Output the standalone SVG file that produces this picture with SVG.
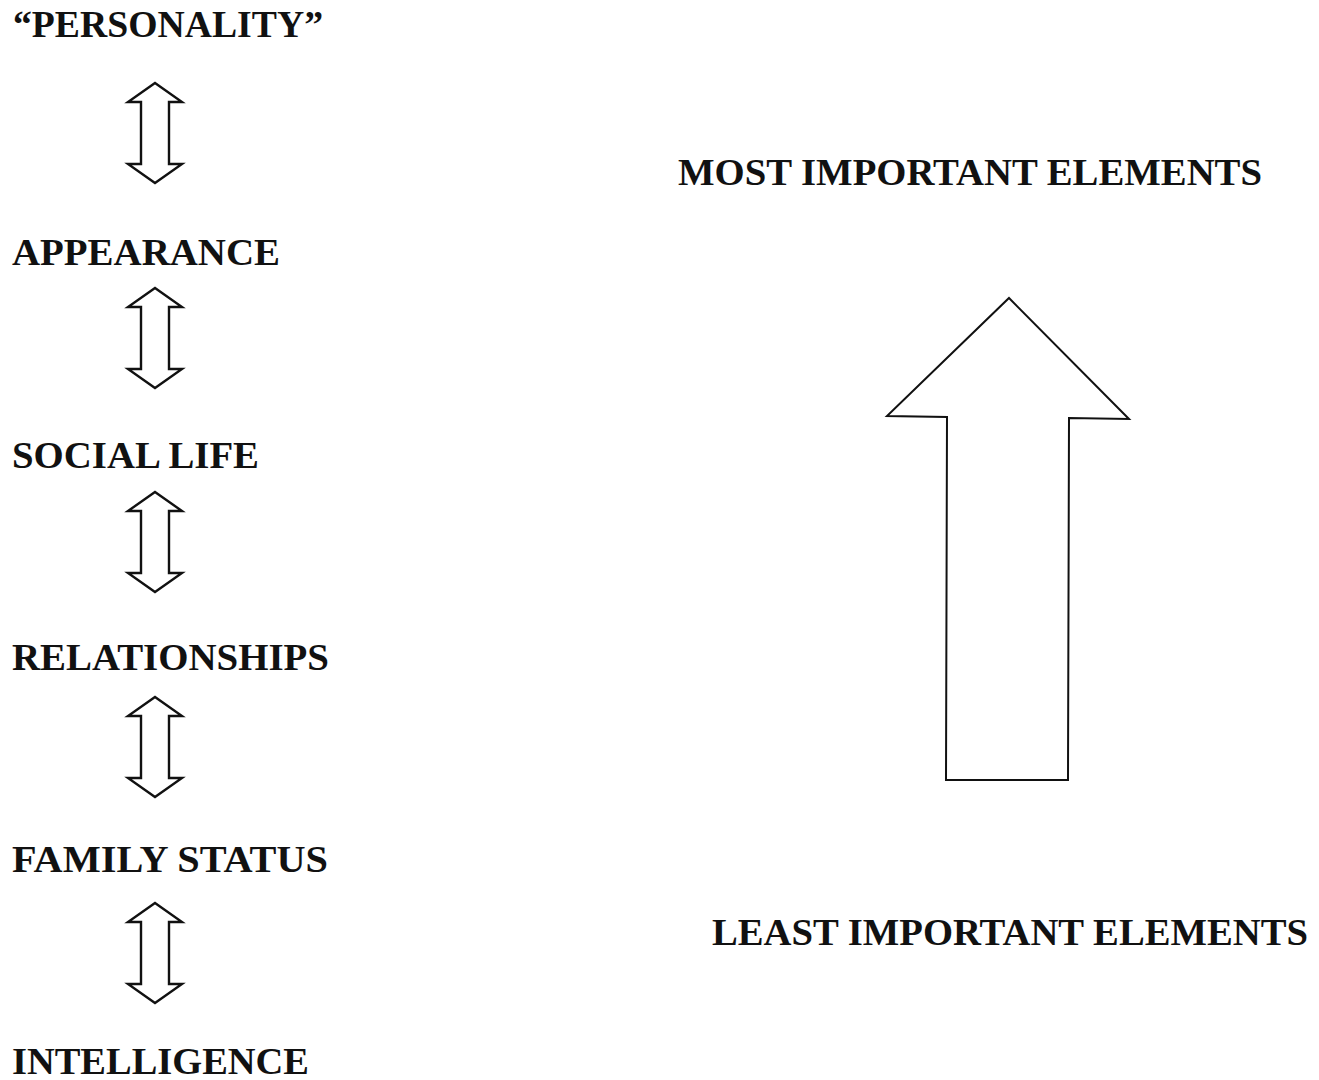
<svg xmlns="http://www.w3.org/2000/svg" width="1319" height="1080" viewBox="0 0 1319 1080">
  <style>
    .label { font-family: "Liberation Serif", "Times New Roman", serif; font-weight: bold; font-size: 37px; fill: #111; }
    .dbl { fill: #fff; stroke: #111; stroke-width: 2.4; stroke-linejoin: miter; }
    .big { fill: #fff; stroke: #111; stroke-width: 2; stroke-linejoin: miter; }
  </style>
  <defs>
    <!-- two-headed hollow arrow, origin at the upper tip -->
    <path id="dblArrow" class="dbl" d="M0,0 L27,19 L14,19 L14,81 L27,81 L0,100 L-27,81 L-14,81 L-14,19 L-27,19 Z"/>
  </defs>
  <rect width="1319" height="1080" fill="#fff"/>

  <!-- ranked list of elements -->
  <g id="personality"><text class="label" x="13" y="37" textLength="310" lengthAdjust="spacingAndGlyphs">“PERSONALITY”</text></g>
  <g id="appearance"><text class="label" x="12" y="265" textLength="268" lengthAdjust="spacingAndGlyphs">APPEARANCE</text></g>
  <g id="social-life"><text class="label" x="12" y="468" textLength="247" lengthAdjust="spacingAndGlyphs">SOCIAL LIFE</text></g>
  <g id="relationships"><text class="label" x="12" y="670" textLength="317" lengthAdjust="spacingAndGlyphs">RELATIONSHIPS</text></g>
  <g id="family-status"><text class="label" x="12" y="872" textLength="316" lengthAdjust="spacingAndGlyphs">FAMILY STATUS</text></g>
  <g id="intelligence"><text class="label" x="12" y="1074" textLength="297" lengthAdjust="spacingAndGlyphs">INTELLIGENCE</text></g>

  <!-- connectors between consecutive elements -->
  <g id="connectors">
    <use href="#dblArrow" transform="translate(155,83)"/>
    <use href="#dblArrow" transform="translate(155,288)"/>
    <use href="#dblArrow" transform="translate(155,492)"/>
    <use href="#dblArrow" transform="translate(155,697)"/>
    <use href="#dblArrow" transform="translate(155,903)"/>
  </g>

  <!-- importance scale -->
  <g id="most-important"><text class="label" x="678" y="185" textLength="584" lengthAdjust="spacingAndGlyphs">MOST IMPORTANT ELEMENTS</text></g>
  <g id="importance-arrow">
    <path class="big" d="M1009,298 L1129,419 L1069,418 L1068,780 L946,780 L947,417 L887,416 Z"/>
  </g>
  <g id="least-important"><text class="label" x="712" y="945" textLength="596" lengthAdjust="spacingAndGlyphs">LEAST IMPORTANT ELEMENTS</text></g>
</svg>
